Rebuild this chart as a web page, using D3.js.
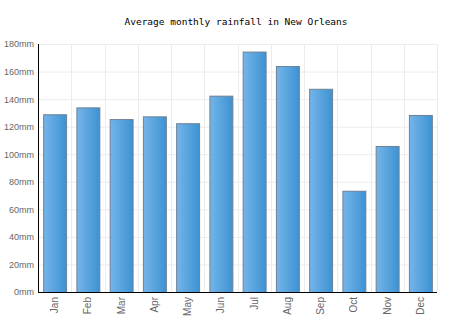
<!DOCTYPE html>
<html><head><meta charset="utf-8">
<script src="https://cdn.jsdelivr.net/npm/d3@7"></script>
<style>body{margin:0;background:#fff}svg{display:block}</style>
</head><body>
<script>
const months = ["Jan","Feb","Mar","Apr","May","Jun","Jul","Aug","Sep","Oct","Nov","Dec"];
const rainfall = [129,134,125.5,127.5,122.5,142.5,174.5,164,147.5,73.5,106,128.5];
const yTicks = [0,20,40,60,80,100,120,140,160,180];
const title = "Average monthly rainfall in New Orleans";

const W = 474, H = 331;
const m = {left:38, right:37, top:44, bottom:39};
const svg = d3.select("body").append("svg").attr("width",W).attr("height",H);
const defs = svg.append("defs");
const g = defs.append("linearGradient").attr("id","bg").attr("x1","0").attr("x2","1").attr("y1","0").attr("y2","0");
g.append("stop").attr("offset","0%").attr("stop-color","#74b5ea");
g.append("stop").attr("offset","100%").attr("stop-color","#3d92d2");

const x = d3.scaleBand().domain(months).range([m.left, W-m.right]).paddingInner(0.31).paddingOuter(0.155);
const xg = d3.scaleBand().domain(months).range([m.left, W-m.right]);
const y = d3.scaleLinear().domain([0,180]).range([H-m.bottom, m.top]);

// grid
svg.append("g").selectAll("line.h").data(yTicks.slice(1)).join("line")
  .attr("x1",m.left).attr("x2",W-m.right).attr("y1",d=>y(d)+0.5).attr("y2",d=>y(d)+0.5)
  .attr("stroke","#ececec").attr("stroke-width",1);
svg.append("g").selectAll("line.v").data(months).join("line")
  .attr("x1",d=>Math.round(xg(d)+xg.bandwidth())+0.5).attr("x2",d=>Math.round(xg(d)+xg.bandwidth())+0.5)
  .attr("y1",m.top).attr("y2",H-m.bottom)
  .attr("stroke","#ececec").attr("stroke-width",1);

// bars
svg.append("g").selectAll("rect").data(months).join("rect")
  .attr("x",(d)=>x(d)+0.5).attr("width",x.bandwidth())
  .attr("y",(d,i)=>y(rainfall[i])+0.5).attr("height",(d,i)=>y(0)-y(rainfall[i]))
  .attr("fill","url(#bg)").attr("stroke","#6d8094").attr("stroke-width",1);

// y axis
const ya = svg.append("g").attr("transform",`translate(${m.left},0)`)
  .call(d3.axisLeft(y).tickValues(yTicks).tickSize(0).tickPadding(4).tickFormat(d=>d+"mm"));
ya.select(".domain").attr("stroke","#000").attr("d",`M0.5,${m.top}V${H-m.bottom}`);
ya.selectAll("text").attr("font-family","Liberation Sans, Arial, sans-serif").attr("font-size","9px").attr("fill","#666");

// x axis
const xa = svg.append("g").attr("transform",`translate(0,${H-m.bottom})`)
  .call(d3.axisBottom(x).tickSize(0));
xa.select(".domain").attr("stroke","#000").attr("d",`M${m.left},0.5H${W-m.right}`);
xa.selectAll("text").attr("font-family","Liberation Sans, Arial, sans-serif").attr("font-size","10px").attr("fill","#666")
  .attr("text-anchor","end").attr("transform","rotate(-90)").attr("x",-5).attr("y",0).attr("dy","0.35em");

svg.append("text").attr("x",236).attr("y",25).attr("text-anchor","middle")
  .attr("font-family","DejaVu Sans Mono, monospace").attr("font-size","9.5px").attr("fill","#000").text(title);
</script>
</body></html>
